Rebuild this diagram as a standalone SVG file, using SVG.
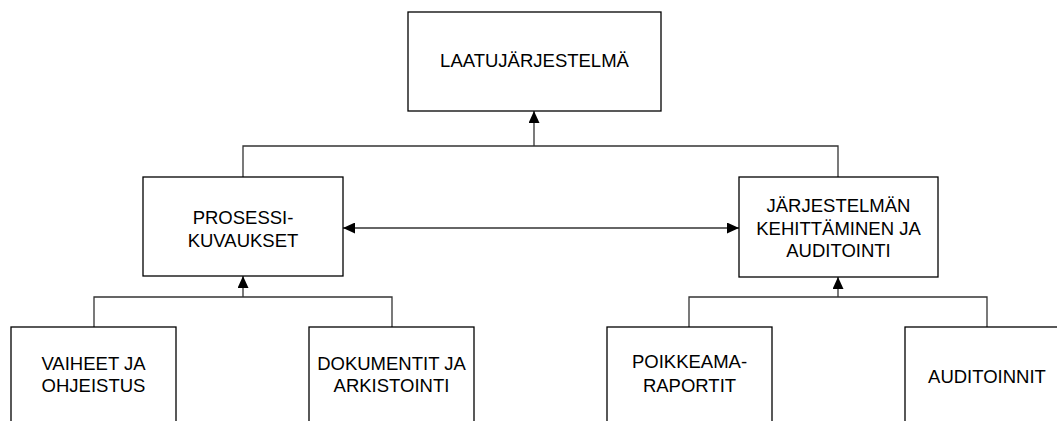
<svg xmlns="http://www.w3.org/2000/svg" width="1057" height="421" viewBox="0 0 1057 421">
<defs>
<marker id="ah" viewBox="0 0 12 11" refX="12" refY="5.5" markerWidth="12" markerHeight="11" markerUnits="userSpaceOnUse" orient="auto-start-reverse">
<path d="M0,0 L12,5.5 L0,11 Z" fill="#000"/>
</marker>
<style>
.box{fill:#fff;stroke:#000;stroke-width:1.3}
.t{font-family:"Liberation Sans",Arial,sans-serif;font-size:18.5px;fill:#000;text-anchor:middle}
.c{fill:none;stroke:#333;stroke-width:1.3}
</style>
</defs>
<rect width="1057" height="421" fill="#fff"/>
<g id="connectors">
<path class="c" d="M243,177 V146 H838 V177"/>
<path class="c" d="M534,146 V111" marker-end="url(#ah)"/>
<path class="c" d="M343,228 H739" marker-start="url(#ah)" marker-end="url(#ah)"/>
<path class="c" d="M94,327 V297 H392 V327"/>
<path class="c" d="M243,297 V276" marker-end="url(#ah)"/>
<path class="c" d="M689,327 V297 H987 V327"/>
<path class="c" d="M838,297 V277" marker-end="url(#ah)"/>
</g>
<g id="laatujarjestelma">
<rect class="box" x="408" y="12" width="253" height="99"/>
<text class="t" x="534.5" y="67">LAATUJÄRJESTELMÄ</text>
</g>
<g id="prosessikuvaukset">
<rect class="box" x="143" y="177" width="200" height="99"/>
<text class="t" x="243" y="224">PROSESSI-</text>
<text class="t" x="243" y="247">KUVAUKSET</text>
</g>
<g id="kehittaminen">
<rect class="box" x="739" y="177" width="199" height="100"/>
<text class="t" x="838.5" y="212">JÄRJESTELMÄN</text>
<text class="t" x="838.5" y="234.5">KEHITTÄMINEN JA</text>
<text class="t" x="838.5" y="257">AUDITOINTI</text>
</g>
<g id="vaiheet">
<rect class="box" x="11" y="327" width="165" height="110"/>
<text class="t" x="93.5" y="370">VAIHEET JA</text>
<text class="t" x="93.5" y="392">OHJEISTUS</text>
</g>
<g id="dokumentit">
<rect class="box" x="309" y="327" width="165" height="110"/>
<text class="t" x="391.5" y="370">DOKUMENTIT JA</text>
<text class="t" x="391.5" y="392">ARKISTOINTI</text>
</g>
<g id="poikkeamaraportit">
<rect class="box" x="607" y="327" width="165" height="110"/>
<text class="t" x="689.5" y="368">POIKKEAMA-</text>
<text class="t" x="689.5" y="392">RAPORTIT</text>
</g>
<g id="auditoinnit">
<rect class="box" x="905" y="327" width="165" height="110"/>
<text class="t" x="987" y="383">AUDITOINNIT</text>
</g>
</svg>
